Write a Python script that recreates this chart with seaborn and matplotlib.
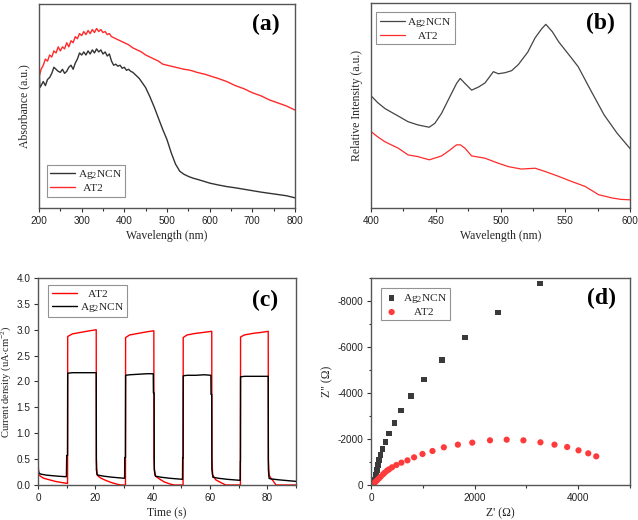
import numpy as np
import pandas as pd
import matplotlib
matplotlib.use("Agg")
import matplotlib.pyplot as plt
import seaborn as sns
from matplotlib.ticker import MultipleLocator, FuncFormatter

sns.set_theme(style="ticks")
plt.rcParams['font.family'] = ['Liberation Sans', 'DejaVu Sans']
plt.rcParams['mathtext.fontset'] = 'custom'
plt.rcParams['mathtext.rm'] = 'Liberation Serif'
plt.rcParams['mathtext.it'] = 'Liberation Serif:italic'

SERIF = ['Liberation Serif', 'DejaVu Serif']

# ---------------- (a) UV-vis absorbance ----------------
a_wl_ag = [200, 202, 205, 210, 215, 220, 225, 230, 235, 240, 245, 250, 255, 260, 265, 270, 275,
           280, 285, 290, 295, 300, 305, 310, 315, 320, 325, 330, 335, 340, 345, 350, 355, 360,
           365, 370, 375, 380, 385, 390, 395, 400, 405, 410, 415, 420, 425, 430, 435, 440, 445,
           450, 460, 470, 480, 490, 500, 510, 520, 530, 540, 550, 560, 580, 600, 620, 640, 660,
           680, 700, 720, 740, 760, 780, 800]
a_abs_ag = [0.72, 0.59, 0.60, 0.62, 0.60, 0.63, 0.64, 0.66, 0.69, 0.68, 0.67, 0.665, 0.68, 0.66,
            0.67, 0.69, 0.70, 0.68, 0.71, 0.73, 0.76, 0.75, 0.765, 0.75, 0.77, 0.755, 0.775, 0.76,
            0.78, 0.765, 0.775, 0.755, 0.765, 0.745, 0.755, 0.72, 0.70, 0.705, 0.695, 0.70, 0.685,
            0.69, 0.675, 0.68, 0.67, 0.665, 0.655, 0.645, 0.635, 0.62, 0.605, 0.59, 0.545, 0.495,
            0.44, 0.385, 0.335, 0.27, 0.215, 0.18, 0.165, 0.155, 0.147, 0.135, 0.122, 0.113, 0.105,
            0.099, 0.092, 0.085, 0.078, 0.072, 0.066, 0.060, 0.050]
a_wl_at2 = [200, 205, 210, 215, 220, 225, 230, 235, 240, 245, 250, 255, 260, 265, 270, 275, 280,
            285, 290, 295, 300, 305, 310, 315, 320, 325, 330, 335, 340, 345, 350, 355, 360, 365,
            370, 375, 380, 385, 390, 395, 400, 410, 420, 430, 440, 450, 460, 470, 480, 490, 500,
            510, 520, 530, 540, 550, 560, 570, 580, 590, 600, 620, 640, 660, 680, 700, 720, 740,
            760, 780, 790, 800]
a_abs_at2 = [0.64, 0.68, 0.70, 0.73, 0.72, 0.75, 0.74, 0.77, 0.76, 0.79, 0.77, 0.79, 0.78, 0.81,
             0.79, 0.82, 0.81, 0.84, 0.83, 0.855, 0.845, 0.865, 0.85, 0.87, 0.855, 0.875, 0.86,
             0.88, 0.865, 0.875, 0.86, 0.865, 0.85, 0.855, 0.84, 0.835, 0.83, 0.825, 0.82, 0.815,
             0.81, 0.80, 0.785, 0.775, 0.765, 0.75, 0.74, 0.73, 0.72, 0.705, 0.70, 0.695, 0.69,
             0.685, 0.68, 0.677, 0.672, 0.665, 0.66, 0.655, 0.648, 0.635, 0.62, 0.60, 0.585, 0.565,
             0.55, 0.53, 0.515, 0.50, 0.49, 0.48]

# ---------------- (b) PL spectra ----------------
b_wl_ag = [400, 405, 410.6, 415, 420.9, 428.6, 436.4, 444.9, 449.3, 454.5, 460.9, 466.1, 468.9,
           472.5, 477.7, 483, 488, 494.5, 498.3, 503.5, 508.6, 513.8, 521, 526.7, 531.9, 535,
           540, 545, 550, 555, 560, 570, 580, 590, 600]
b_int_ag = [0.548, 0.515, 0.486, 0.47, 0.449, 0.421, 0.405, 0.394, 0.413, 0.462, 0.543, 0.608,
            0.632, 0.608, 0.575, 0.59, 0.61, 0.665, 0.655, 0.66, 0.67, 0.70, 0.76, 0.83, 0.875,
            0.896, 0.86, 0.81, 0.77, 0.73, 0.689, 0.57, 0.454, 0.365, 0.29]
b_wl_at2 = [400, 405, 410.6, 415, 421, 428.6, 436, 445, 454.5, 461, 466, 469, 472.5, 477.7, 488,
            498, 506, 516, 526.7, 534.5, 545, 555, 565.4, 575.7, 586, 593, 600]
b_int_at2 = [0.373, 0.348, 0.324, 0.31, 0.292, 0.259, 0.251, 0.235, 0.254, 0.283, 0.308, 0.308,
             0.292, 0.254, 0.243, 0.219, 0.202, 0.19, 0.194, 0.178, 0.154, 0.129, 0.105, 0.065,
             0.049, 0.042, 0.04]

# ---------------- (c) photocurrent ----------------
c_t_at2 = [0, 0.1, 0.3, 0.8, 2, 4, 6, 8, 10.3, 10.35, 12, 15, 18, 20.3, 20.35, 20.6, 21, 22, 24,
           26, 28, 29, 30.5, 30.55, 32, 35, 38, 40.4, 40.45, 40.7, 41, 42, 44, 46, 47.5, 50.6,
           50.65, 52, 55, 58, 60.6, 60.65, 60.9, 61.3, 62, 64, 65.5, 70.6, 70.65, 72, 75, 78, 80.3,
           80.35, 80.6, 81, 82, 83, 90]
c_j_at2 = [1.33, 0.35, 0.2, 0.17, 0.13, 0.1, 0.07, 0.05, 0.03, 2.87, 2.92, 2.95, 2.98, 3.0, 0.5,
           0.2, 0.17, 0.13, 0.08, 0.04, 0.01, 0.0, 0.0, 2.85, 2.9, 2.93, 2.96, 2.98, 0.5, 0.2, 0.17,
           0.13, 0.06, 0.02, 0.0, 0.0, 2.85, 2.9, 2.93, 2.95, 2.97, 0.5, 0.2, 0.16, 0.1, 0.04, 0.0,
           0.0, 2.86, 2.9, 2.93, 2.95, 2.97, 0.5, 0.2, 0.15, 0.08, 0.0, 0.0]
c_t_ag = [0, 0.05, 0.3, 1, 3, 5, 7, 9.9, 10.0, 10.3, 10.35, 12, 15, 18, 20.3, 20.35, 20.6, 21, 23,
          26, 30.2, 30.25, 30.5, 30.55, 32, 35, 38, 40.2, 40.25, 40.5, 40.55, 41, 43, 46, 50.4,
          50.45, 50.6, 50.65, 52, 55, 58, 60.3, 60.35, 60.6, 60.65, 61, 63, 66, 70.5, 70.55,
          70.6, 70.65, 72, 75, 78, 80.3, 80.35, 80.6, 81, 84, 87, 90]
c_j_ag = [0.62, 0.3, 0.23, 0.21, 0.19, 0.18, 0.17, 0.16, 0.57, 0.57, 2.16, 2.17, 2.17, 2.17, 2.17,
          0.3, 0.2, 0.19, 0.17, 0.15, 0.13, 0.53, 0.53, 2.12, 2.13, 2.14, 2.15, 2.15, 1.78, 1.78,
          0.3, 0.17, 0.15, 0.13, 0.11, 0.52, 0.52, 2.11, 2.12, 2.12, 2.13, 2.12, 1.75, 1.75, 0.3,
          0.15, 0.13, 0.11, 0.09, 0.45, 0.45, 2.09, 2.10, 2.10, 2.10, 2.10, 0.3, 0.13, 0.12, 0.1,
          0.085, 0.07]

# ---------------- (d) Nyquist ----------------
d_zre_ag = [58, 77, 97, 116, 135, 155, 181, 226, 277, 348, 452, 581, 768, 1019, 1368, 1819, 2452, 3258]
d_zim_ag = [-72, -246, -435, -652, -870, -1087, -1304, -1565, -1870, -2246, -2696, -3232, -3870,
            -4594, -5435, -6420, -7507, -8768]
d_zre_at2 = [30, 58, 90, 123, 155, 187, 232, 265, 310, 348, 406, 490, 587, 703, 832, 994, 1187,
             1406, 1677, 1955, 2297, 2619, 2942, 3271, 3542, 3787, 4006, 4194, 4348]
d_zim_at2 = [-20, -72, -145, -217, -290, -362, -464, -536, -623, -681, -768, -870, -971, -1072,
             -1203, -1348, -1478, -1638, -1754, -1841, -1942, -1971, -1942, -1855, -1754, -1652,
             -1507, -1377, -1246]

RED = '#ff2a2a'
BLK = '#333333'

fig = plt.figure(figsize=(6.38, 5.20), dpi=100)
axA = fig.add_axes([0.0611, 0.600, 0.4013, 0.3923])
axB = fig.add_axes([0.5815, 0.600, 0.4060, 0.3942])
axC = fig.add_axes([0.0596, 0.0673, 0.4044, 0.3981])
axD = fig.add_axes([0.5815, 0.0673, 0.4060, 0.3981])

def style(ax):
    for s in ax.spines.values():
        s.set_color('#555555')
        s.set_linewidth(1.0)
    ax.tick_params(which='both', direction='out', colors='#333333', labelsize=7.2,
                   width=0.8, labelcolor='#222222', pad=2.5)
    ax.tick_params(which='major', length=3)
    ax.tick_params(which='minor', length=1.8)
    for lab in ax.get_xticklabels() + ax.get_yticklabels():
        lab.set_family(['Liberation Sans', 'DejaVu Sans'])

def legend(ax, loc, handlelen=2.2, bbox=None, textpad=0.25):
    lg = ax.legend(loc=loc, bbox_to_anchor=bbox, frameon=True, fancybox=False,
                   prop={'family': SERIF, 'size': 8.2}, handlelength=handlelen,
                   borderpad=0.3, labelspacing=0.2, handletextpad=textpad, borderaxespad=0.0)
    lg.get_frame().set_edgecolor('#777777')
    lg.get_frame().set_linewidth(0.8)
    return lg

def panel(ax, s, x, y):
    ax.text(x, y, s, transform=ax.transAxes, ha='center', va='center',
            fontsize=17, fontweight='bold', family=SERIF, color='black')

LAB_AG = 'Ag$_2$NCN'

# (a)
dfa1 = pd.DataFrame({'wl': a_wl_ag, 'v': a_abs_ag})
dfa2 = pd.DataFrame({'wl': a_wl_at2, 'v': a_abs_at2})
sns.lineplot(data=dfa1, x='wl', y='v', ax=axA, color=BLK, lw=1.0, sort=False, estimator=None, label=LAB_AG)
sns.lineplot(data=dfa2, x='wl', y='v', ax=axA, color=RED, lw=1.0, sort=False, estimator=None, label='  AT2')
axA.set_xlim(200, 800)
axA.set_ylim(0, 1)
axA.set_yticks([])
axA.xaxis.set_major_locator(MultipleLocator(100))
axA.xaxis.set_minor_locator(MultipleLocator(50))
axA.set_xlabel('Wavelength (nm)', family=SERIF, fontsize=8.5, labelpad=3)
axA.set_ylabel('Absorbance (a.u.)', family=SERIF, fontsize=8.5, labelpad=6)
style(axA)
legend(axA, 'lower left', bbox=(0.03, 0.055))
panel(axA, '(a)', 0.885, 0.90)

# (b)
dfb1 = pd.DataFrame({'wl': b_wl_ag, 'v': b_int_ag})
dfb2 = pd.DataFrame({'wl': b_wl_at2, 'v': b_int_at2})
sns.lineplot(data=dfb1, x='wl', y='v', ax=axB, color='#444444', lw=0.9, sort=False, estimator=None, label=LAB_AG)
sns.lineplot(data=dfb2, x='wl', y='v', ax=axB, color=RED, lw=0.9, sort=False, estimator=None, label='    AT2')
axB.set_xlim(400, 600)
axB.set_ylim(0, 1)
axB.set_yticks([])
axB.xaxis.set_major_locator(MultipleLocator(50))
axB.xaxis.set_minor_locator(MultipleLocator(25))
axB.set_xlabel('Wavelength (nm)', family=SERIF, fontsize=8.5, labelpad=3)
axB.set_ylabel('Relative Intensity (a.u.)', family=SERIF, fontsize=8.5, labelpad=6)
style(axB)
legend(axB, 'upper left', bbox=(0.02, 0.955))
panel(axB, '(b)', 0.884, 0.90)

# (c)
dfc1 = pd.DataFrame({'t': c_t_at2, 'j': c_j_at2})
dfc2 = pd.DataFrame({'t': c_t_ag, 'j': c_j_ag})
sns.lineplot(data=dfc1, x='t', y='j', ax=axC, color='#ff0000', lw=1.0, sort=False, estimator=None, label='   AT2')
sns.lineplot(data=dfc2, x='t', y='j', ax=axC, color='black', lw=1.0, sort=False, estimator=None, label=LAB_AG)
axC.set_xlim(0, 90)
axC.set_ylim(0, 4.0)
axC.xaxis.set_major_locator(MultipleLocator(20))
axC.xaxis.set_minor_locator(MultipleLocator(10))
axC.yaxis.set_major_locator(MultipleLocator(0.5))
axC.yaxis.set_major_formatter(FuncFormatter(lambda v, p: f'{v:.1f}'))
axC.set_xlabel('Time (s)', family=SERIF, fontsize=8.5, labelpad=3)
axC.set_ylabel('Current density (uA$\\cdot$cm$^{-2}$)', family=SERIF, fontsize=7.6)
axC.yaxis.set_label_coords(-0.098, 0.5)
style(axC)
legend(axC, 'upper left', bbox=(0.04, 0.965))
panel(axC, '(c)', 0.88, 0.893)

# (d)
dfd1 = pd.DataFrame({'zr': d_zre_ag, 'zi': d_zim_ag})
dfd2 = pd.DataFrame({'zr': d_zre_at2, 'zi': d_zim_at2})
sns.scatterplot(data=dfd1, x='zr', y='zi', ax=axD, marker='s', color='#3a3a3a', s=16,
                edgecolor='none', label=LAB_AG)
sns.scatterplot(data=dfd2, x='zr', y='zi', ax=axD, marker='o', color='#ff3a3a', s=20,
                edgecolor='none', label='    AT2')
axD.set_xlim(0, 5000)
axD.set_ylim(0, -9000)
axD.xaxis.set_major_locator(MultipleLocator(2000))
axD.xaxis.set_minor_locator(MultipleLocator(1000))
axD.yaxis.set_major_locator(MultipleLocator(2000))
axD.yaxis.set_minor_locator(MultipleLocator(1000))
axD.yaxis.set_major_formatter(FuncFormatter(lambda v, p: '0' if v == 0 else f'{v:.0f}'))
axD.set_xlabel("Z' (Ω)", family=SERIF, fontsize=8.5, labelpad=3)
axD.set_ylabel('Z" (Ω)', family=SERIF, fontsize=8.5, labelpad=3)
style(axD)
legend(axD, 'upper left', bbox=(0.04, 0.95), handlelen=1.2, textpad=0.4)
panel(axD, '(d)', 0.888, 0.90)

fig.savefig('out.png', dpi=100)
